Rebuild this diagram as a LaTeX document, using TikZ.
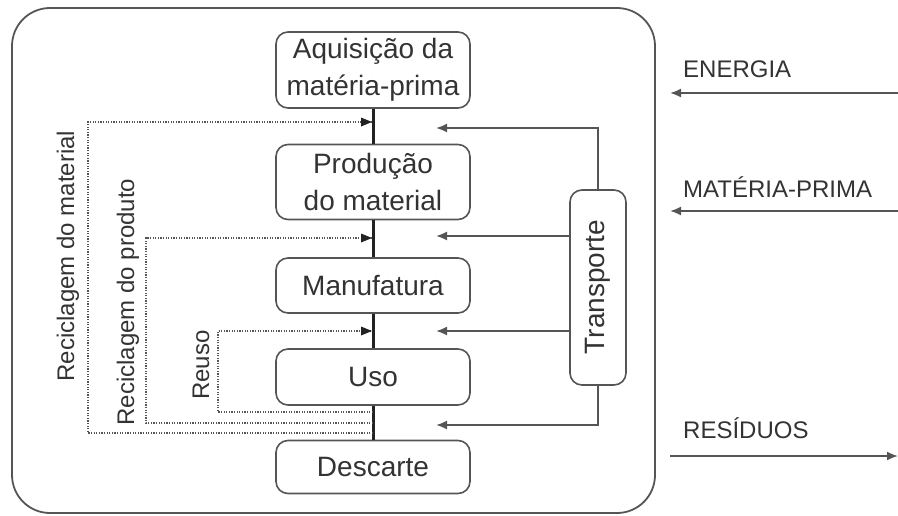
\documentclass[tikz,border=0pt]{standalone}
\usepackage{fontspec}
\setmainfont{Liberation Sans}
\usetikzlibrary{arrows.meta}
\definecolor{txt}{HTML}{333333}
\definecolor{ln}{HTML}{555555}
\definecolor{main}{HTML}{222222}
\begin{document}
\begin{tikzpicture}[x=1pt,y=-1pt,
  stagebox/.style={draw=ln,line width=1.6pt,rounded corners=12pt,minimum width=194pt,text=txt,align=center,font=\fontsize{28}{37}\selectfont,inner sep=0pt},
  mainline/.style={draw=main,line width=3pt},
  loopline/.style={draw=ln,line width=1.3pt,dash pattern=on 1.3pt off 1.3pt},
  tip/.style={-{Latex[length=11pt,width=9pt]}},
  transline/.style={draw=ln,line width=1.8pt},
  looplabel/.style={text=txt,font=\fontsize{24}{28}\selectfont,rotate=90,inner sep=0pt},
  sidelabel/.style={text=txt,font=\fontsize{24}{28}\selectfont,anchor=west,inner sep=0pt},
]
\useasboundingbox (0,0) rectangle (898,515);
% outer frame
\draw[ln,line width=1.8pt,rounded corners=38pt] (12,8) rectangle (655,513);

% stages
\node[stagebox,minimum height=76pt] (acq) at (373,70) {Aquisição da\\matéria-prima};
\node[stagebox,minimum height=75pt] (prod) at (373,182) {Produção\\do material};
\node[stagebox,minimum height=55pt] (manu) at (373,285.5) {Manufatura};
\node[stagebox,minimum height=56pt] (uso) at (373,377) {Uso};
\node[stagebox,minimum height=53pt] (desc) at (373,467) {Descarte};

% main flow line
\draw[mainline] (acq.south) -- (prod.north);
\draw[mainline] (prod.south) -- (manu.north);
\draw[mainline] (manu.south) -- (uso.north);
\draw[mainline] (uso.south) -- (desc.north);

% loops
\coordinate (m1) at (373,433);
\coordinate (m2) at (373,423);
\coordinate (m3) at (373,412);
\coordinate (t1) at (372,122);
\coordinate (t2) at (372,238);
\coordinate (t3) at (372,331);
\draw[loopline] (m1) -| (88,122) -- (t1);
\draw[loopline] (m2) -| (146,238) -- (t2);
\draw[loopline] (m3) -| (218,331) -- (t3);
\fill[main] (t1) -- ++(-11,-4.5) -- ++(0,9) -- cycle;
\fill[main] (t2) -- ++(-11,-4.5) -- ++(0,9) -- cycle;
\fill[main] (t3) -- ++(-11,-4.5) -- ++(0,9) -- cycle;

\node[looplabel] (lmat) at (68,256) {Reciclagem do material};
\node[looplabel] (lprod) at (128,302) {Reciclagem do produto};
\node[looplabel] (lreu) at (201,365) {Reuso};

% transport
\node[draw=ln,line width=1.6pt,rounded corners=12pt,minimum width=56pt,minimum height=195pt,inner sep=0pt] (trans) at (598,287.5) {};
\node[text=txt,font=\fontsize{28}{32}\selectfont,rotate=90,inner sep=0pt] (translabel) at (598,287) {Transporte};
\coordinate (a1) at (436,128);
\coordinate (a2) at (436,236);
\coordinate (a3) at (436,331);
\coordinate (a4) at (436,425);
\draw[transline,tip] (trans.north) |- (a1);
\draw[transline,tip] (trans.west |- a2) -- (a2);
\draw[transline,tip] (trans.west |- a3) -- (a3);
\draw[transline,tip] (trans.south) |- (a4);

% side flows
\node[sidelabel] (energia) at (683,69) {ENERGIA};
\node[sidelabel] (mp) at (683,187) {MATÉRIA-PRIMA};
\node[sidelabel] (res) at (683,428) {RESÍDUOS};
\coordinate (e0) at (898,93);
\coordinate (e1) at (670,93);
\coordinate (p0) at (898,211);
\coordinate (p1) at (670,211);
\coordinate (r0) at (670,456);
\coordinate (r1) at (898,456);
\draw[transline,tip] (e0) -- (e1);
\draw[transline,tip] (p0) -- (p1);
\draw[transline,tip] (r0) -- (r1);
\end{tikzpicture}
\end{document}
